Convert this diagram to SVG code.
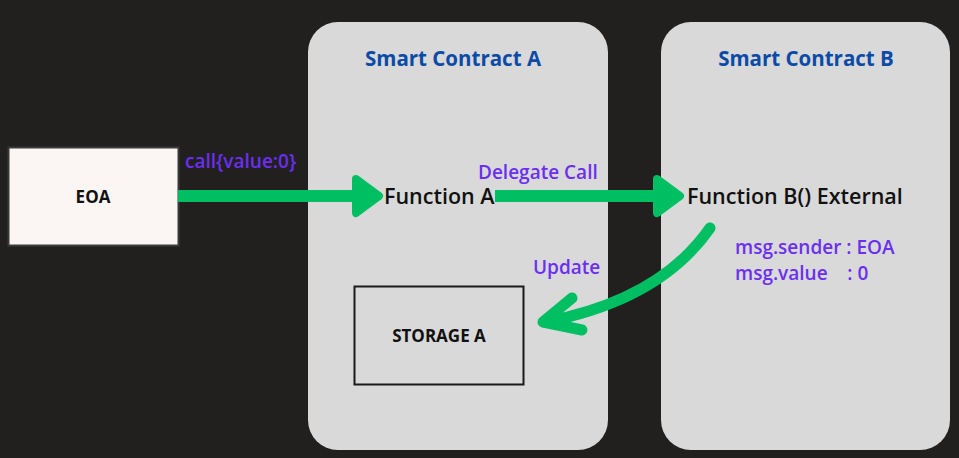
<svg xmlns="http://www.w3.org/2000/svg" width="959" height="458" viewBox="0 0 959 458">
<style>
.panel{fill:#d9d9d9}
.title{font-family:"Open Sans","Liberation Sans",sans-serif;font-weight:700;font-size:20.5px;fill:#0b4ba8;text-anchor:middle}
.lbl{font-family:"Open Sans","Liberation Sans",sans-serif;font-weight:600;font-size:19px;fill:#6b2ff0}
.fn{font-family:"Open Sans","Liberation Sans",sans-serif;font-weight:600;font-size:21.5px;fill:#111}
.box{font-family:"Open Sans","Liberation Sans",sans-serif;font-weight:700;font-size:17px;fill:#111;text-anchor:middle}
.line{stroke:#00bf63;stroke-width:12;fill:none}
.head{fill:#00bf63;stroke:#00bf63;stroke-width:8;stroke-linejoin:round}
</style>
<rect width="959" height="458" fill="#221f1f"/>
<g id="contractA">
<rect class="panel" x="308" y="22" width="300" height="428" rx="30"/>
<text class="title" x="453" y="66">Smart Contract A</text>
</g>
<g id="contractB">
<rect class="panel" x="661" y="22" width="289" height="428" rx="30"/>
<text class="title" x="806" y="66">Smart Contract B</text>
</g>
<g id="eoa">
<rect x="8.5" y="147.5" width="170" height="98" fill="#fbf6f4" stroke="#3a3a3a" stroke-width="2"/>
<text class="box" x="93" y="203">EOA</text>
</g>
<g id="functionA"><text class="fn" x="384" y="204">Function A</text></g>
<g id="functionB"><text class="fn" x="687" y="204">Function B() External</text></g>
<g id="storageA">
<rect x="354.5" y="286.5" width="169" height="98" fill="none" stroke="#1a1a1a" stroke-width="2"/>
<text class="box" x="439" y="342">STORAGE A</text>
</g>
<g id="connectors">
<line class="line" x1="178" y1="196" x2="360" y2="196"/>
<polygon class="head" points="356,179 379,196 356,213"/>
<line class="line" x1="495" y1="196" x2="660" y2="196"/>
<polygon class="head" points="657,179 680,196 657,213"/>
<path d="M710,228 Q660,300 545,322" stroke="#00bf63" stroke-width="11" fill="none" stroke-linecap="round"/>
<path d="M572,298 L543,322 L582,330" stroke="#00bf63" stroke-width="11" fill="none" stroke-linecap="round" stroke-linejoin="round"/>
</g>
<g id="labels">
<text class="lbl" x="185" y="168">call{value:0}</text>
<text class="lbl" x="478" y="179">Delegate Call</text>
<text class="lbl" x="533" y="274">Update</text>
<text class="lbl" x="735" y="254">msg.sender : EOA</text>
<text class="lbl" x="735" y="280" xml:space="preserve">msg.value    : 0</text>
</g>
</svg>
